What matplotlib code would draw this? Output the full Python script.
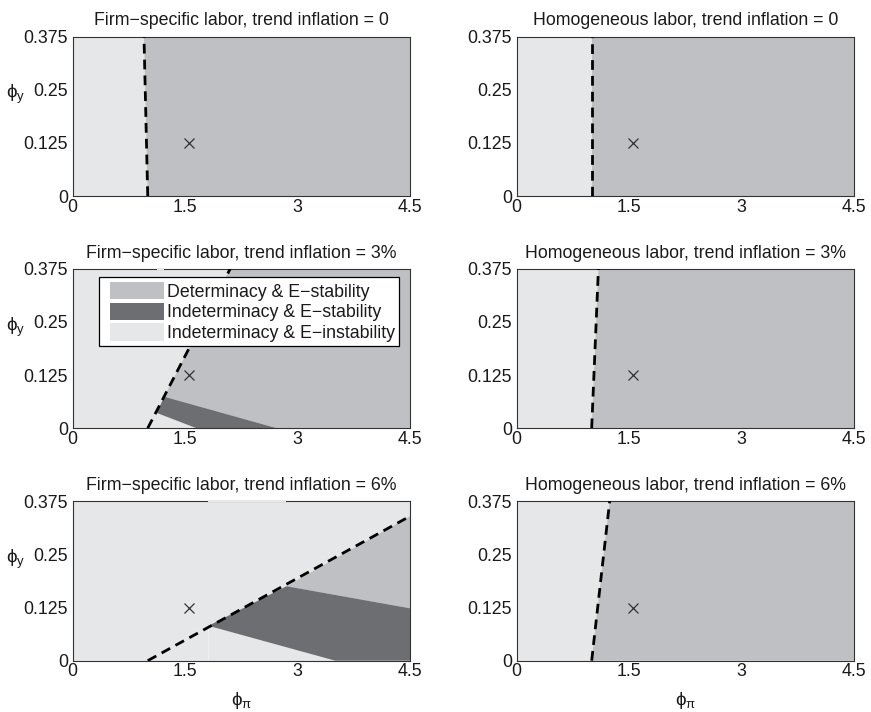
import matplotlib
matplotlib.use('Agg')
import matplotlib.pyplot as plt
import matplotlib.patches as mpatches
from matplotlib.legend_handler import HandlerPatch

plt.rcParams['font.family'] = ['Liberation Sans', 'DejaVu Sans']
plt.rcParams['font.size'] = 12.8
plt.rcParams['mathtext.fontset'] = 'custom'
plt.rcParams['mathtext.rm'] = 'Liberation Sans'
plt.rcParams['mathtext.it'] = 'Liberation Sans'

# ---- colours ----
LIGHT = '#e6e7e8'   # indeterminacy & E-instability
MID = '#bfc0c3'     # determinacy & E-stability
DARK = '#6d6e71'    # indeterminacy & E-stability
EDGE = '#333333'
TXT = '#1a1a1a'
FS = 12.8

# ---- axes ----
PHI_PI_TICKS = [0, 1.5, 3, 4.5]
PHI_Y_TICKS = [0, 0.125, 0.25, 0.375]
PHI_Y_LABELS = ['0', '0.125', '0.25', '0.375']
PHI_PI_LABELS = ['0', '1.5', '3', '4.5']

# Taylor rule point
taylor_pi = [1.55]
taylor_y = [0.125]

# ---- firm-specific labor ----
fs0_line_x = [1.0, 0.95]
fs0_line_y = [0, 0.375]
fs0_det_x = [1.0, 0.95, 4.5, 4.5]
fs0_det_y = [0, 0.375, 0.375, 0]

fs3_line_x = [1.0, 2.1]
fs3_line_y = [0, 0.375]
fs3_det_x = [1.22, 2.1, 4.5, 4.5, 2.72]
fs3_det_y = [0.074, 0.375, 0.375, 0, 0]
fs3_ind_x = [1.12, 1.22, 2.72, 1.65]
fs3_ind_y = [0.036, 0.074, 0, 0]
fs3_gap = [1.12, 1.22]

fs6_line_x = [1.0, 4.5]
fs6_line_y = [0, 0.34]
fs6_det_x = [2.85, 4.5, 4.5]
fs6_det_y = [0.175, 0.34, 0.123]
fs6_ind_x = [1.81, 2.85, 4.5, 4.5, 3.5]
fs6_ind_y = [0.082, 0.175, 0.123, 0, 0]
fs6_gap = [1.81, 2.84]

# ---- homogeneous labor ----
hl0_line_x = [1.0, 1.0]
hl3_line_x = [1.0, 1.09]
hl6_line_x = [1.0, 1.24]
hl_line_y = [0, 0.375]

TITLES = [
    ['Firm\u2212specific labor, trend inflation = 0', 'Homogeneous labor, trend inflation = 0'],
    ['Firm\u2212specific labor, trend inflation = 3%', 'Homogeneous labor, trend inflation = 3%'],
    ['Firm\u2212specific labor, trend inflation = 6%', 'Homogeneous labor, trend inflation = 6%'],
]
LEGEND_LABELS = ['Determinacy & E\u2212stability',
                 'Indeterminacy & E\u2212stability',
                 'Indeterminacy & E\u2212instability']


class ShiftedPatch(HandlerPatch):
    """legend swatch pushed to the right, like the matlab legend"""
    def create_artists(self, legend, orig_handle, xdescent, ydescent,
                       width, height, fontsize, trans):
        shift = 0.39 * fontsize
        h = 1.0 * fontsize
        p = mpatches.Rectangle((-xdescent + shift, -ydescent + (height - h) / 2),
                               width - shift, h,
                               facecolor=orig_handle.get_facecolor(),
                               edgecolor='none', transform=trans)
        return [p]


fig = plt.figure(figsize=(8.71, 7.12), dpi=100)
lefts = [0.0835, 0.5932]
bottoms = [0.7247, 0.3986, 0.0721]
W, H = 0.3875, 0.2240

axes = [[fig.add_axes([l, b, W, H]) for l in lefts] for b in bottoms]


def setup(ax, title, row, col):
    ax.set_facecolor(LIGHT)
    ax.set_xlim(0, 4.5)
    ax.set_ylim(0, 0.375)
    ax.set_xticks(PHI_PI_TICKS)
    ax.set_xticklabels(PHI_PI_LABELS)
    ax.set_yticks(PHI_Y_TICKS)
    ax.set_yticklabels(PHI_Y_LABELS)
    ax.tick_params(axis='y', length=0, pad=3.5, labelsize=FS, colors=TXT)
    ax.tick_params(axis='x', length=0, pad=2, labelsize=FS, colors=TXT)
    for s in ax.spines.values():
        s.set_color(EDGE)
        s.set_linewidth(0.8)
    ax.set_title(title, fontsize=FS, pad=8, color=TXT)
    if col == 0:
        ax.set_ylabel(r'$\phi_y$', rotation=0, fontsize=13.5, va='center', color=TXT)
        ax.yaxis.set_label_coords(-0.17, 0.635)
    if row == 2:
        ax.set_xlabel(r'$\phi_\pi$', fontsize=13.5, labelpad=7, color=TXT)


def boundary(ax, xs, ys):
    ax.plot(xs, ys, color='black', linewidth=2.0, dashes=(3.5, 2.2),
            solid_capstyle='butt', dash_capstyle='butt', zorder=3)


def mark(ax):
    ax.plot(taylor_pi, taylor_y, marker='x', linestyle='none', color='#333333',
            markersize=6.5, markeredgewidth=0.9, zorder=4)


def spine_gap(ax, xs):
    ax.plot(xs, [0.375, 0.375], color=LIGHT, linewidth=1.6, zorder=5,
            clip_on=False, solid_capstyle='butt')


for r in range(3):
    for c in range(2):
        setup(axes[r][c], TITLES[r][c], r, c)

# firm-specific, 0
ax = axes[0][0]
ax.fill(fs0_det_x, fs0_det_y, color=MID, linewidth=0)
boundary(ax, fs0_line_x, fs0_line_y)
mark(ax)

# firm-specific, 3%
ax = axes[1][0]
ax.fill(fs3_det_x, fs3_det_y, color=MID, linewidth=0)
ax.fill(fs3_ind_x, fs3_ind_y, color=DARK, linewidth=0)
boundary(ax, fs3_line_x, fs3_line_y)
mark(ax)
spine_gap(ax, fs3_gap)
handles = [mpatches.Patch(facecolor=MID, edgecolor='none'),
           mpatches.Patch(facecolor=DARK, edgecolor='none'),
           mpatches.Patch(facecolor=LIGHT, edgecolor='none')]
leg = ax.legend(handles, LEGEND_LABELS, loc='upper right',
                bbox_to_anchor=(0.967, 0.945), borderaxespad=0,
                fancybox=False, framealpha=1, edgecolor='black',
                fontsize=FS, handlelength=3.43, handleheight=1.2,
                handletextpad=0.2, labelspacing=0.1, borderpad=0.22,
                handler_map={mpatches.Patch: ShiftedPatch()})
leg.get_frame().set_linewidth(0.9)
for t in leg.get_texts():
    t.set_color(TXT)
leg.set_zorder(6)

# firm-specific, 6%
ax = axes[2][0]
ax.fill(fs6_det_x, fs6_det_y, color=MID, linewidth=0)
ax.fill(fs6_ind_x, fs6_ind_y, color=DARK, linewidth=0)
ax.plot([fs6_ind_x[0], fs6_ind_x[0]], [0, fs6_ind_y[0]], color='#f2f2f2',
        linewidth=0.6, zorder=2)
boundary(ax, fs6_line_x, fs6_line_y)
mark(ax)
spine_gap(ax, fs6_gap)

# homogeneous labor
for ax, lx in zip([axes[0][1], axes[1][1], axes[2][1]],
                  [hl0_line_x, hl3_line_x, hl6_line_x]):
    ax.fill([lx[0], lx[1], 4.5, 4.5], [hl_line_y[0], hl_line_y[1], 0.375, 0],
            color=MID, linewidth=0)
    boundary(ax, lx, hl_line_y)
    mark(ax)

fig.savefig('out.png', dpi=100, facecolor='white')
